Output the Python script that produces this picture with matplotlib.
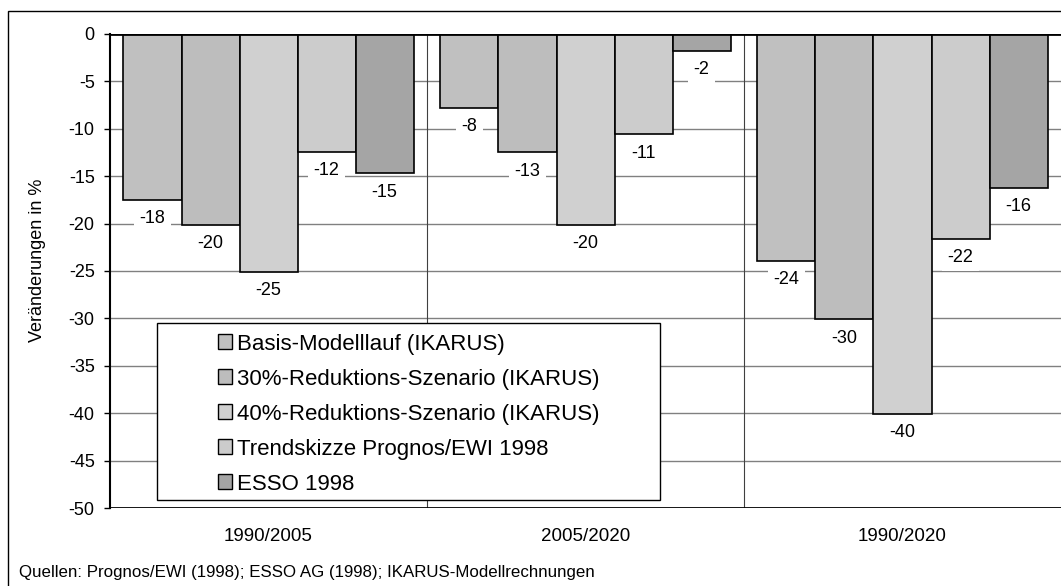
import matplotlib
matplotlib.use("Agg")
import numpy as np
from matplotlib import pyplot as plt
from matplotlib.patches import Rectangle, Patch

plt.rcParams['font.family'] = ['Liberation Sans', 'DejaVu Sans']

# data
groups = ['1990/2005', '2005/2020', '1990/2020']
series = ['Basis-Modelllauf (IKARUS)',
          '30%-Reduktions-Szenario (IKARUS)',
          '40%-Reduktions-Szenario (IKARUS)',
          'Trendskizze Prognos/EWI 1998',
          'ESSO 1998']
basis = [-17.5, -7.8, -23.9]
red30 = [-20.1, -12.5, -30.1]
red40 = [-25.1, -20.1, -40.1]
trend = [-12.4, -10.6, -21.6]
esso = [-14.7, -1.8, -16.2]
labels = [[-18, -8, -24], [-20, -13, -30], [-25, -20, -40], [-12, -11, -22], [-15, -2, -16]]
colors = ['#c0c0c0', '#bdbdbd', '#d0d0d0', '#cccccc', '#a5a5a5']
yticks = list(range(0, -55, -5))
source = 'Quellen: Prognos/EWI (1998); ESSO AG (1998); IKARUS-Modellrechnungen'

fig = plt.figure(figsize=(10.61, 5.86), dpi=100)
# outer frame like the original chart object
fig.patches.append(Rectangle((0.0075, -0.1), 1.2, 0.981 + 0.1, transform=fig.transFigure,
                             fill=False, edgecolor='black', linewidth=1.0, zorder=0))

ax = fig.add_axes([0.1037, 0.1331, 0.8963, 0.8089])
x = np.arange(len(groups))
w = 0.183
values = [basis, red30, red40, trend, esso]
for j, (vals, col) in enumerate(zip(values, colors)):
    pos = x + (j - 2) * w
    ax.bar(pos, vals, width=w, color=col, edgecolor='black', linewidth=1.2, zorder=3)
    for px, v, lab in zip(pos, vals, labels[j]):
        ax.annotate(str(lab), (px, v), xytext=(0, -13.5), textcoords='offset points',
                    ha='center', va='center', fontsize=13, zorder=4,
                    bbox=dict(boxstyle='square,pad=0.3', fc='white', ec='none'))

ax.set_xlim(-0.5, 2.5)
ax.set_ylim(-50, 0)
ax.set_yticks(yticks)
ax.set_yticklabels([str(t) for t in yticks], fontsize=13)
ax.tick_params(axis='y', direction='out', length=4, width=1, pad=7)
ax.set_xticks([])
for g in yticks[1:-1]:
    ax.axhline(g, color='#808080', linewidth=1.0, zorder=1)
ax.axhline(0, color='black', linewidth=2, zorder=5)
ax.axhline(-50, color='black', linewidth=2, zorder=5)
for s in [0.5, 1.5]:
    ax.axvline(s, color='#404040', linewidth=0.8, zorder=1)
for sp in ['top', 'right', 'bottom']:
    ax.spines[sp].set_visible(False)
ax.spines['left'].set_linewidth(1.5)

fig.text(38 / 1061, 1 - 260 / 586, 'Veränderungen in %', rotation=90,
         ha='center', va='center', fontsize=13)

for xi, g in zip(x, groups):
    ax.text(xi, -53.0, g, ha='center', va='center', fontsize=13.5)

fig.text(19 / 1061, 1 - 572 / 586, source, ha='left', va='center', fontsize=12.2)

# legend box drawn separately, entries placed inside
ax.add_patch(Rectangle((0.049, 0.017), 0.529, 0.373, transform=ax.transAxes,
                       fc='white', ec='black', linewidth=1.0, zorder=6))
handles = [Patch(facecolor=c, edgecolor='black', linewidth=1.0) for c in colors]
leg = ax.legend(handles, series, loc='upper left', bbox_to_anchor=(0.1134, 0.368),
                frameon=False, fontsize=16, handlelength=0.63, handleheight=0.63,
                handletextpad=0.21, labelspacing=0.63, borderaxespad=0, borderpad=0)
leg.set_zorder(7)

fig.savefig('out.png', dpi=100)
